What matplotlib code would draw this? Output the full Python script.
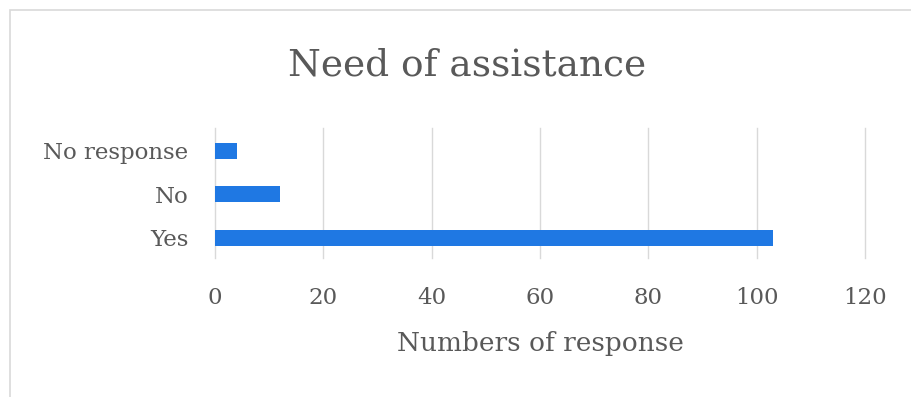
import matplotlib
matplotlib.use("Agg")
import matplotlib.pyplot as plt
from matplotlib.patches import Rectangle

categories = ["Yes", "No", "No response"]
values = [103, 12, 4]
xticks = [0, 20, 40, 60, 80, 100, 120]

plt.rcParams['font.family'] = ['DejaVu Serif']
text_color = "#595959"

fig = plt.figure(figsize=(9.12, 3.97), dpi=100)
ax = fig.add_axes([215/912, 1-258/397, (865-215)/912, (258-128)/397])

ax.barh(range(len(categories)), values, height=0.37, color="#1f78e3", zorder=3)
ax.set_xlim(0, 120)
ax.set_ylim(-0.47, 2.53)
ax.set_xticks(xticks)
ax.set_xticklabels([str(t) for t in xticks])
ax.set_yticks(range(len(categories)))
ax.set_yticklabels(categories)
ax.grid(axis="x", color="#d9d9d9", linewidth=1, zorder=0)
for gl in ax.get_xgridlines():
    gl.set_clip_on(False)
ax.tick_params(axis="x", length=0, pad=21, labelsize=16.5, colors=text_color)
ax.tick_params(axis="y", length=0, pad=19, labelsize=16.5, colors=text_color)
for s in ax.spines.values():
    s.set_visible(False)

ax.set_xlabel("Numbers of response", fontsize=19, color=text_color, labelpad=16)
fig.text(467/912, 1-65/397, "Need of assistance", fontsize=27, color=text_color,
         ha="center", va="center")

fig.patches.append(Rectangle((10/912, -0.1), 1.2, 1-10/397+0.1, transform=fig.transFigure,
                             fill=False, edgecolor="#d9d9d9", linewidth=1.2))

fig.savefig("out.png", dpi=100)
